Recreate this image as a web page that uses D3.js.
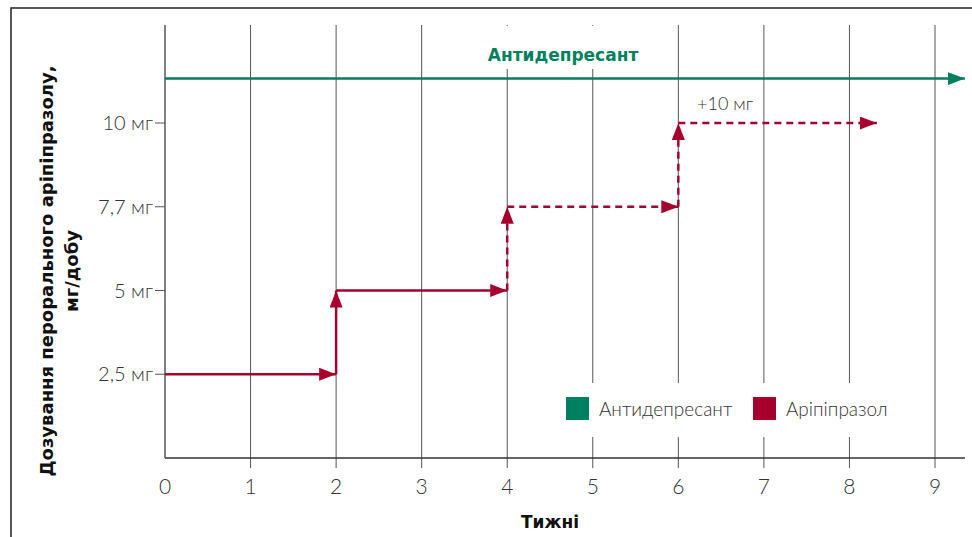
<!DOCTYPE html>
<html>
<head>
<meta charset="utf-8">
<script src="https://cdn.jsdelivr.net/npm/d3@7"></script>
<style>
  body { margin: 0; background: #fff; }
  text { font-family: Lato, "Noto Sans", sans-serif; }
  text.bold { font-family: "DejaVu Sans", sans-serif; font-weight: bold; }
</style>
</head>
<body>
<div id="chart"></div>
<script>
var width  = 972;
var height = 537;

// data
var weeks = [0, 1, 2, 3, 4, 5, 6, 7, 8, 9];
var doseLabels = ["2,5 мг", "5 мг", "7,7 мг", "10 мг"];   // levels 1..4
var stepStart  = [0, 2, 4, 6];          // week where each dose begins
var stepLevel  = [1, 2, 3, 4];          // dose level index
var stepEnd    = [2, 4, 6, 8.32];       // week where each arrow stops
var stepDashed = [false, false, true, true];
var antiLevel  = 4.53;                  // antidepressant line, runs whole period
var antiEnd    = 9.35;

var green = "#00805e";
var red   = "#a6002f";
var ink   = "#333";

var x = d3.scaleLinear().domain([0, 9]).range([165, 935]);
var y = d3.scaleLinear().domain([0, 4]).range([458, 123]);

var svg = d3.select("#chart").append("svg")
  .attr("width", width)
  .attr("height", height);

// arrow markers
function addMarker(id, color) {
  svg.append("defs").append("marker")
    .attr("id", id)
    .attr("viewBox", "0 0 17 13")
    .attr("refX", 17).attr("refY", 6.5)
    .attr("markerWidth", 17).attr("markerHeight", 13)
    .attr("markerUnits", "userSpaceOnUse")
    .attr("orient", "auto")
    .append("path")
    .attr("d", "M0,0 L17,6.5 L0,13 Z")
    .attr("fill", color);
}
addMarker("arrRed", red);
addMarker("arrGreen", green);

// outer frame (top and left)
svg.append("path")
  .attr("d", "M11,537 L11,8 L972,8")
  .attr("fill", "none")
  .attr("stroke", "#222")
  .attr("stroke-width", 1.5);

// vertical week lines
svg.selectAll(".grid")
  .data(weeks.slice(1))
  .enter().append("line")
  .attr("class", "grid")
  .attr("x1", function(d) { return x(d); })
  .attr("x2", function(d) { return x(d); })
  .attr("y1", 25)
  .attr("y2", 468)
  .attr("stroke", "#555")
  .attr("stroke-width", 1);

// white patches behind title and legend
svg.append("rect").attr("x", 478).attr("y", 26).attr("width", 170).attr("height", 43).attr("fill", "#fff");
svg.append("rect").attr("x", 548).attr("y", 383).attr("width", 376).attr("height", 54).attr("fill", "#fff");

// axes lines
svg.append("line")
  .attr("x1", x(0)).attr("x2", 965)
  .attr("y1", y(0)).attr("y2", y(0))
  .attr("stroke", "#333").attr("stroke-width", 1.5);
svg.append("line")
  .attr("x1", x(0)).attr("x2", x(0))
  .attr("y1", 25).attr("y2", y(0))
  .attr("stroke", "#555").attr("stroke-width", 1.5);

// y ticks and labels
svg.selectAll(".ytick")
  .data(doseLabels)
  .enter().append("line")
  .attr("class", "ytick")
  .attr("x1", x(0) - 10).attr("x2", x(0))
  .attr("y1", function(d, i) { return y(i + 1); })
  .attr("y2", function(d, i) { return y(i + 1); })
  .attr("stroke", "#555").attr("stroke-width", 1);

svg.selectAll(".ylab")
  .data(doseLabels)
  .enter().append("text")
  .attr("class", "ylab")
  .attr("x", x(0) - 12)
  .attr("y", function(d, i) { return y(i + 1) + 7; })
  .attr("text-anchor", "end")
  .attr("font-size", 20)
  .attr("font-weight", 300)
  .attr("fill", ink)
  .text(function(d) { return d; });

// x labels
svg.selectAll(".xlab")
  .data(weeks)
  .enter().append("text")
  .attr("class", "xlab")
  .attr("x", function(d) { return x(d); })
  .attr("y", 494)
  .attr("text-anchor", "middle")
  .attr("font-size", 21)
  .attr("font-weight", 300)
  .attr("fill", ink)
  .text(function(d) { return d; });

// axis titles
svg.append("text")
  .attr("class", "bold")
  .attr("x", 550).attr("y", 528)
  .attr("text-anchor", "middle")
  .attr("font-size", 17)
  .attr("fill", "#111")
  .text("Тижні");

var yTitle = svg.append("text")
  .attr("class", "bold")
  .attr("transform", "translate(0,271) rotate(-90)")
  .attr("text-anchor", "middle")
  .attr("font-size", 18)
  .attr("fill", "#111");
yTitle.append("tspan").attr("x", 0).attr("y", 53).text("Дозування перорального аріпіпразолу,");
yTitle.append("tspan").attr("x", 0).attr("y", 78).text("мг/добу");

// antidepressant line
svg.append("line")
  .attr("x1", x(0)).attr("x2", x(antiEnd))
  .attr("y1", y(antiLevel)).attr("y2", y(antiLevel))
  .attr("stroke", green).attr("stroke-width", 2.5)
  .attr("marker-end", "url(#arrGreen)");

svg.append("text")
  .attr("class", "bold")
  .attr("x", 563).attr("y", 61)
  .attr("text-anchor", "middle")
  .attr("font-size", 17)
  .attr("fill", green)
  .text("Антидепресант");

// aripiprazole steps: riser to the new level, then hold
stepStart.forEach(function(s, i) {
  var dash = stepDashed[i] ? "7,5" : null;
  if (i > 0) {
    svg.append("line")
      .attr("x1", x(s)).attr("x2", x(s))
      .attr("y1", y(stepLevel[i - 1])).attr("y2", y(stepLevel[i]))
      .attr("stroke", red).attr("stroke-width", 2.5)
      .attr("stroke-dasharray", dash)
      .attr("marker-end", "url(#arrRed)");
  }
  svg.append("line")
    .attr("x1", x(s)).attr("x2", x(stepEnd[i]))
    .attr("y1", y(stepLevel[i])).attr("y2", y(stepLevel[i]))
    .attr("stroke", red).attr("stroke-width", 2.5)
    .attr("stroke-dasharray", dash)
    .attr("marker-end", "url(#arrRed)");
});

svg.append("text")
  .attr("x", 697).attr("y", 110)
  .attr("font-size", 18).attr("font-weight", 300)
  .attr("fill", ink)
  .text("+10 мг");

// legend
var legend = [{name: "Антидепресант", color: green, x: 566}, {name: "Аріпіпразол", color: red, x: 753}];
var lg = svg.selectAll(".legend")
  .data(legend)
  .enter().append("g")
  .attr("class", "legend")
  .attr("transform", function(d) { return "translate(" + d.x + ",397)"; });
lg.append("rect")
  .attr("width", 23).attr("height", 23)
  .attr("fill", function(d) { return d.color; });
lg.append("text")
  .attr("x", 33).attr("y", 19)
  .attr("font-size", 19).attr("font-weight", 300)
  .attr("fill", ink)
  .text(function(d) { return d.name; });
</script>
</body>
</html>
